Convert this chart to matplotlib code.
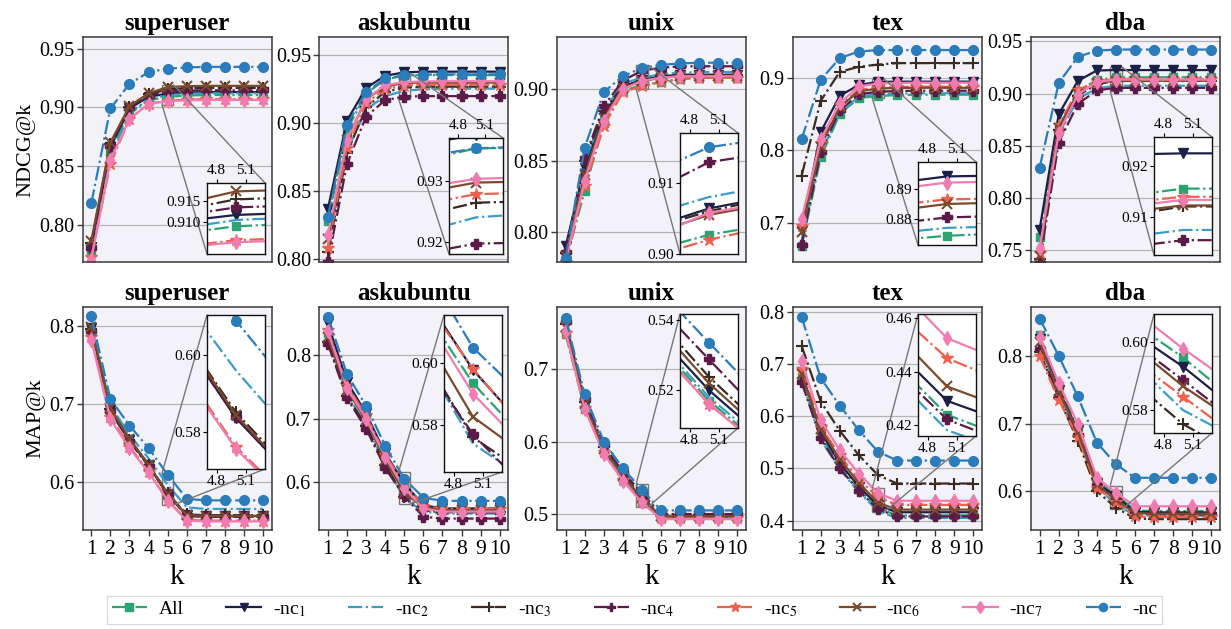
import matplotlib
matplotlib.use("Agg")
import matplotlib.pyplot as plt
from mpl_toolkits.axes_grid1.inset_locator import mark_inset

plt.rcParams['font.family'] = ['Liberation Serif', 'DejaVu Serif']
plt.rcParams['mathtext.fontset'] = 'stix'

# ---------------------------------------------------------------- data
k = [1, 2, 3, 4, 5, 6, 7, 8, 9, 10]
datasets = ['superuser', 'askubuntu', 'unix', 'tex', 'dba']
variants = ['All', '-nc$_1$', '-nc$_2$', '-nc$_3$', '-nc$_4$',
            '-nc$_5$', '-nc$_6$', '-nc$_7$', '-nc']

# NDCG@k, rows follow `variants`
ndcg_superuser = [
    [0.776, 0.862, 0.896, 0.906, 0.9090, 0.9100, 0.9105, 0.9105, 0.9105, 0.9105],
    [0.778, 0.866, 0.899, 0.909, 0.9117, 0.9125, 0.9130, 0.9130, 0.9130, 0.9130],
    [0.774, 0.858, 0.894, 0.907, 0.9105, 0.9115, 0.9120, 0.9120, 0.9120, 0.9120],
    [0.784, 0.869, 0.900, 0.911, 0.9154, 0.9162, 0.9165, 0.9165, 0.9165, 0.9165],
    [0.780, 0.867, 0.899, 0.910, 0.9135, 0.9142, 0.9145, 0.9145, 0.9145, 0.9145],
    [0.772, 0.852, 0.890, 0.903, 0.9057, 0.9065, 0.9070, 0.9070, 0.9070, 0.9070],
    [0.786, 0.870, 0.901, 0.912, 0.9173, 0.9180, 0.9183, 0.9183, 0.9183, 0.9183],
    [0.770, 0.855, 0.890, 0.903, 0.9052, 0.9060, 0.9063, 0.9063, 0.9063, 0.9063],
    [0.818, 0.899, 0.920, 0.930, 0.9330, 0.9340, 0.9345, 0.9345, 0.9345, 0.9345],
]
ndcg_askubuntu = [
    [0.828, 0.895, 0.922, 0.932, 0.9353, 0.9355, 0.9355, 0.9355, 0.9355, 0.9355],
    [0.837, 0.902, 0.926, 0.935, 0.9375, 0.9380, 0.9380, 0.9380, 0.9380, 0.9380],
    [0.812, 0.880, 0.910, 0.920, 0.9240, 0.9250, 0.9255, 0.9255, 0.9255, 0.9255],
    [0.805, 0.878, 0.912, 0.923, 0.9264, 0.9268, 0.9270, 0.9270, 0.9270, 0.9270],
    [0.798, 0.870, 0.905, 0.917, 0.9197, 0.9200, 0.9200, 0.9200, 0.9200, 0.9200],
    [0.808, 0.882, 0.915, 0.925, 0.9278, 0.9282, 0.9285, 0.9285, 0.9285, 0.9285],
    [0.815, 0.888, 0.918, 0.927, 0.9297, 0.9300, 0.9300, 0.9300, 0.9300, 0.9300],
    [0.818, 0.888, 0.918, 0.928, 0.9303, 0.9308, 0.9310, 0.9310, 0.9310, 0.9310],
    [0.831, 0.899, 0.923, 0.933, 0.9353, 0.9358, 0.9360, 0.9360, 0.9360, 0.9360],
]
ndcg_unix = [
    [0.779, 0.829, 0.876, 0.899, 0.9027, 0.9050, 0.9070, 0.9080, 0.9080, 0.9080],
    [0.790, 0.845, 0.882, 0.902, 0.9064, 0.9090, 0.9100, 0.9100, 0.9100, 0.9100],
    [0.782, 0.848, 0.885, 0.904, 0.9080, 0.9105, 0.9115, 0.9120, 0.9120, 0.9120],
    [0.785, 0.850, 0.885, 0.902, 0.9060, 0.9090, 0.9100, 0.9100, 0.9100, 0.9100],
    [0.786, 0.852, 0.888, 0.906, 0.9129, 0.9150, 0.9160, 0.9160, 0.9160, 0.9160],
    [0.779, 0.832, 0.874, 0.898, 0.9020, 0.9050, 0.9070, 0.9080, 0.9080, 0.9080],
    [0.783, 0.840, 0.880, 0.901, 0.9055, 0.9080, 0.9090, 0.9090, 0.9090, 0.9090],
    [0.780, 0.836, 0.878, 0.900, 0.9058, 0.9080, 0.9090, 0.9090, 0.9090, 0.9090],
    [0.782, 0.859, 0.898, 0.909, 0.9150, 0.9170, 0.9180, 0.9185, 0.9185, 0.9185],
]
ndcg_tex = [
    [0.668, 0.790, 0.850, 0.872, 0.8746, 0.8760, 0.8765, 0.8765, 0.8765, 0.8765],
    [0.690, 0.825, 0.875, 0.890, 0.8940, 0.8945, 0.8945, 0.8945, 0.8945, 0.8945],
    [0.675, 0.795, 0.852, 0.874, 0.8772, 0.8780, 0.8785, 0.8785, 0.8785, 0.8785],
    [0.765, 0.868, 0.908, 0.915, 0.9180, 0.9200, 0.9200, 0.9200, 0.9200, 0.9200],
    [0.670, 0.798, 0.855, 0.877, 0.8806, 0.8815, 0.8820, 0.8820, 0.8820, 0.8820],
    [0.695, 0.810, 0.862, 0.883, 0.8865, 0.8870, 0.8875, 0.8875, 0.8875, 0.8875],
    [0.688, 0.805, 0.860, 0.881, 0.8850, 0.8858, 0.8860, 0.8860, 0.8860, 0.8860],
    [0.705, 0.815, 0.865, 0.888, 0.8920, 0.8925, 0.8930, 0.8930, 0.8930, 0.8930],
    [0.815, 0.897, 0.927, 0.936, 0.9380, 0.9380, 0.9380, 0.9380, 0.9380, 0.9380],
]
ndcg_dba = [
    [0.763, 0.868, 0.902, 0.913, 0.9155, 0.9155, 0.9155, 0.9155, 0.9155, 0.9155],
    [0.770, 0.880, 0.912, 0.922, 0.9224, 0.9224, 0.9224, 0.9224, 0.9224, 0.9224],
    [0.745, 0.860, 0.895, 0.905, 0.9074, 0.9074, 0.9074, 0.9074, 0.9074, 0.9074],
    [0.742, 0.865, 0.898, 0.909, 0.9120, 0.9120, 0.9120, 0.9120, 0.9120, 0.9120],
    [0.738, 0.853, 0.890, 0.903, 0.9054, 0.9054, 0.9054, 0.9054, 0.9054, 0.9054],
    [0.748, 0.870, 0.903, 0.912, 0.9139, 0.9139, 0.9139, 0.9139, 0.9139, 0.9139],
    [0.745, 0.867, 0.900, 0.910, 0.9122, 0.9122, 0.9122, 0.9122, 0.9122, 0.9122],
    [0.752, 0.862, 0.899, 0.911, 0.9133, 0.9133, 0.9133, 0.9133, 0.9133, 0.9133],
    [0.829, 0.910, 0.935, 0.941, 0.9420, 0.9420, 0.9420, 0.9420, 0.9420, 0.9420],
]

# MAP@k, rows follow `variants`
map_superuser = [
    [0.795, 0.690, 0.652, 0.620, 0.5840, 0.556, 0.555, 0.555, 0.555, 0.555],
    [0.797, 0.692, 0.654, 0.621, 0.5835, 0.557, 0.556, 0.556, 0.556, 0.556],
    [0.800, 0.698, 0.660, 0.630, 0.5960, 0.567, 0.565, 0.565, 0.565, 0.565],
    [0.796, 0.693, 0.654, 0.622, 0.5850, 0.558, 0.557, 0.557, 0.557, 0.557],
    [0.793, 0.690, 0.652, 0.620, 0.5838, 0.556, 0.555, 0.555, 0.555, 0.555],
    [0.785, 0.683, 0.645, 0.613, 0.5760, 0.551, 0.550, 0.550, 0.550, 0.550],
    [0.798, 0.694, 0.655, 0.622, 0.5843, 0.557, 0.556, 0.556, 0.556, 0.556],
    [0.782, 0.680, 0.643, 0.612, 0.5755, 0.550, 0.549, 0.549, 0.549, 0.549],
    [0.812, 0.706, 0.672, 0.643, 0.6090, 0.578, 0.576, 0.576, 0.576, 0.576],
]
map_askubuntu = [
    [0.835, 0.750, 0.702, 0.640, 0.5934, 0.560, 0.556, 0.556, 0.556, 0.556],
    [0.850, 0.758, 0.708, 0.645, 0.5977, 0.563, 0.558, 0.558, 0.558, 0.558],
    [0.825, 0.738, 0.690, 0.628, 0.5740, 0.553, 0.550, 0.550, 0.550, 0.550],
    [0.820, 0.735, 0.688, 0.627, 0.5760, 0.555, 0.552, 0.552, 0.552, 0.552],
    [0.818, 0.732, 0.684, 0.622, 0.5770, 0.545, 0.542, 0.542, 0.542, 0.542],
    [0.840, 0.752, 0.705, 0.642, 0.5980, 0.562, 0.557, 0.557, 0.557, 0.557],
    [0.828, 0.745, 0.697, 0.635, 0.5826, 0.560, 0.555, 0.555, 0.555, 0.555],
    [0.838, 0.748, 0.700, 0.640, 0.5900, 0.558, 0.553, 0.553, 0.553, 0.553],
    [0.861, 0.770, 0.720, 0.657, 0.6048, 0.575, 0.570, 0.570, 0.570, 0.570],
]
map_unix = [
    [0.748, 0.645, 0.585, 0.548, 0.5170, 0.494, 0.494, 0.494, 0.494, 0.494],
    [0.760, 0.650, 0.588, 0.550, 0.5200, 0.496, 0.496, 0.496, 0.496, 0.496],
    [0.755, 0.648, 0.587, 0.549, 0.5180, 0.495, 0.495, 0.495, 0.495, 0.495],
    [0.762, 0.655, 0.592, 0.555, 0.5238, 0.498, 0.498, 0.498, 0.498, 0.498],
    [0.765, 0.658, 0.595, 0.558, 0.5288, 0.500, 0.500, 0.500, 0.500, 0.500],
    [0.750, 0.646, 0.585, 0.547, 0.5160, 0.494, 0.494, 0.494, 0.494, 0.494],
    [0.758, 0.652, 0.590, 0.553, 0.5220, 0.497, 0.497, 0.497, 0.497, 0.497],
    [0.752, 0.645, 0.583, 0.546, 0.5161, 0.493, 0.493, 0.493, 0.493, 0.493],
    [0.770, 0.665, 0.600, 0.563, 0.5336, 0.505, 0.505, 0.505, 0.505, 0.505],
]
map_tex = [
    [0.675, 0.562, 0.505, 0.460, 0.4238, 0.410, 0.410, 0.410, 0.410, 0.410],
    [0.685, 0.570, 0.510, 0.465, 0.4290, 0.416, 0.416, 0.416, 0.416, 0.416],
    [0.670, 0.555, 0.498, 0.455, 0.4180, 0.405, 0.405, 0.405, 0.405, 0.405],
    [0.735, 0.628, 0.572, 0.525, 0.4870, 0.471, 0.471, 0.471, 0.471, 0.471],
    [0.665, 0.558, 0.500, 0.457, 0.4220, 0.408, 0.408, 0.408, 0.408, 0.408],
    [0.690, 0.580, 0.525, 0.478, 0.4450, 0.430, 0.430, 0.430, 0.430, 0.430],
    [0.680, 0.575, 0.518, 0.472, 0.4344, 0.421, 0.421, 0.421, 0.421, 0.421],
    [0.705, 0.592, 0.535, 0.490, 0.4525, 0.438, 0.438, 0.438, 0.438, 0.438],
    [0.790, 0.673, 0.620, 0.573, 0.5320, 0.515, 0.515, 0.515, 0.515, 0.515],
]
map_dba = [
    [0.830, 0.755, 0.695, 0.615, 0.5954, 0.572, 0.571, 0.571, 0.571, 0.571],
    [0.825, 0.750, 0.690, 0.612, 0.5927, 0.570, 0.569, 0.569, 0.569, 0.569],
    [0.815, 0.745, 0.685, 0.607, 0.5800, 0.565, 0.564, 0.564, 0.564, 0.564],
    [0.805, 0.738, 0.675, 0.600, 0.5759, 0.560, 0.559, 0.559, 0.559, 0.559],
    [0.810, 0.740, 0.683, 0.610, 0.5888, 0.567, 0.566, 0.566, 0.566, 0.566],
    [0.800, 0.735, 0.680, 0.605, 0.5839, 0.563, 0.562, 0.562, 0.562, 0.562],
    [0.820, 0.748, 0.688, 0.610, 0.5870, 0.568, 0.567, 0.567, 0.567, 0.567],
    [0.828, 0.760, 0.700, 0.620, 0.5980, 0.578, 0.578, 0.578, 0.578, 0.578],
    [0.855, 0.800, 0.740, 0.672, 0.6400, 0.620, 0.620, 0.620, 0.620, 0.620],
]

ndcg_rows = [ndcg_superuser, ndcg_askubuntu, ndcg_unix, ndcg_tex, ndcg_dba]
map_rows = [map_superuser, map_askubuntu, map_unix, map_tex, map_dba]

# ---------------------------------------------------------------- styles
colors = ['#2ba373', '#1c1f48', '#3a9dc8', '#3b2b22', '#5b1a48',
          '#f0604e', '#7a4a2c', '#f27cb2', '#2a7cba']
markers = ['s', 'v', '', '+', 'P', '*', 'x', 'd', 'o']
msizes = [6, 7, 0, 9, 7, 9, 7, 7, 7]
lstyles = ['-.', '-', '-.', '-.', '-.', '-.', '-', '-', '-.']

BG = '#f2f2f8'
W, H = 1231, 629


def px_rect(x0, y0, x1, y1):
    return [x0 / W, 1 - y1 / H, (x1 - x0) / W, (y1 - y0) / H]


col_left = [82.7, 319.3, 557, 793, 1031]
col_w = 189
row_top = [37, 307]
row_h = [225, 223]

ylims_top = [(0.768, 0.960), (0.798, 0.9635), (0.779, 0.9365), (0.646, 0.956), (0.739, 0.954)]
yticks_top = [[0.80, 0.85, 0.90, 0.95], [0.80, 0.85, 0.90, 0.95], [0.80, 0.85, 0.90],
              [0.7, 0.8, 0.9], [0.75, 0.80, 0.85, 0.90, 0.95]]
yfmt_top = ['%.2f', '%.2f', '%.2f', '%.1f', '%.2f']
ylims_bot = [(0.538, 0.824), (0.524, 0.876), (0.478, 0.7855), (0.382, 0.809), (0.543, 0.872)]
yticks_bot = [[0.6, 0.7, 0.8], [0.6, 0.7, 0.8], [0.5, 0.6, 0.7], [0.4, 0.5, 0.6, 0.7, 0.8],
              [0.6, 0.7, 0.8]]

ins_top = [(207, 183, 265, 254), (449, 138, 503, 254), (680, 133, 738, 254),
           (918, 162, 976, 245), (1154, 137, 1212, 255)]
ins_top_ylim = [(0.9024, 0.9193), (0.918, 0.937), (0.900, 0.917), (0.8716, 0.8987),
                (0.9025, 0.9256)]
ins_top_ticks = [[0.910, 0.915], [0.92, 0.93], [0.90, 0.91], [0.88, 0.89], [0.91, 0.92]]
ins_top_fmt = ['%.3f', '%.2f', '%.2f', '%.2f', '%.2f']
ins_bot = [(207, 315, 265, 469), (444, 315, 502, 472), (680, 314, 738, 428),
           (918, 314, 976, 436), (1154, 314, 1212, 433)]
ins_bot_ylim = [(0.5702, 0.6105), (0.5649, 0.6153), (0.5092, 0.5418), (0.4158, 0.4616),
                (0.5733, 0.6081)]
ins_bot_ticks = [[0.58, 0.60], [0.58, 0.60], [0.52, 0.54], [0.42, 0.44, 0.46], [0.58, 0.60]]

fig = plt.figure(figsize=(W / 100, H / 100), dpi=100)


def draw_lines(ax, rows):
    handles = []
    for vals, lab, c, m, ms, ls in zip(rows, variants, colors, markers, msizes, lstyles):
        h, = ax.plot(k, vals, color=c, marker=m if m else None, markersize=ms,
                     linestyle=ls, linewidth=1.6, markeredgewidth=1.5 if m in '+x' else 1.0,
                     label=lab)
        handles.append(h)
    return handles


def style_main(ax):
    ax.set_facecolor(BG)
    ax.set_xlim(0.55, 10.45)
    ax.set_xticks(k)
    ax.grid(axis='y', color='#b4b4b4', linewidth=0.9)
    ax.set_axisbelow(True)
    for sp in ax.spines.values():
        sp.set_color('#3a3a3a')
        sp.set_linewidth(1.1)
    ax.tick_params(direction='out', length=4, width=1, labelsize=14.5, pad=2,
                   color='#3a3a3a')


def style_inset(axi, top):
    axi.set_facecolor('white')
    axi.set_xlim(4.7, 5.3)
    axi.set_xticks([4.8, 5.1])
    axi.set_xticklabels(['4.8', '5.1'])
    for sp in axi.spines.values():
        sp.set_color('#111111')
        sp.set_linewidth(1.0)
    axi.tick_params(direction='out', length=3, width=0.8, labelsize=11, pad=1.5)
    if top:
        axi.xaxis.tick_top()


handles = None
for c in range(5):
    # NDCG row
    ax = fig.add_axes(px_rect(col_left[c], row_top[0], col_left[c] + col_w,
                              row_top[0] + row_h[0]))
    style_main(ax)
    h = draw_lines(ax, ndcg_rows[c])
    if handles is None:
        handles = h
    ax.set_ylim(*ylims_top[c])
    ax.set_yticks(yticks_top[c])
    ax.set_yticklabels([yfmt_top[c] % v for v in yticks_top[c]])
    ax.tick_params(axis='x', bottom=False, labelbottom=False)
    ax.set_title(datasets[c], fontsize=18, fontweight='bold', pad=5)
    if c == 0:
        ax.set_ylabel('NDCG@k', fontsize=16, labelpad=3)

    axi = fig.add_axes(px_rect(*ins_top[c]))
    draw_lines(axi, ndcg_rows[c])
    style_inset(axi, True)
    axi.set_ylim(*ins_top_ylim[c])
    axi.set_yticks(ins_top_ticks[c])
    axi.set_yticklabels([ins_top_fmt[c] % v for v in ins_top_ticks[c]])
    mark_inset(ax, axi, loc1=1, loc2=3, fc='none', ec='#777777', lw=1.0)

    # MAP row
    ax = fig.add_axes(px_rect(col_left[c], row_top[1], col_left[c] + col_w,
                              row_top[1] + row_h[1]))
    style_main(ax)
    draw_lines(ax, map_rows[c])
    ax.set_ylim(*ylims_bot[c])
    ax.set_yticks(yticks_bot[c])
    ax.set_yticklabels(['%.1f' % v for v in yticks_bot[c]])
    ax.tick_params(axis='x', labelsize=15.5, pad=3)
    ax.set_title(datasets[c], fontsize=18, fontweight='bold', pad=5)
    ax.set_xlabel('k', fontsize=21, labelpad=4)
    if c == 0:
        ax.set_ylabel('MAP@k', fontsize=16, labelpad=3)

    axi = fig.add_axes(px_rect(*ins_bot[c]))
    draw_lines(axi, map_rows[c])
    style_inset(axi, False)
    axi.set_ylim(*ins_bot_ylim[c])
    axi.set_yticks(ins_bot_ticks[c])
    axi.set_yticklabels(['%.2f' % v for v in ins_bot_ticks[c]])
    mark_inset(ax, axi, loc1=2, loc2=4, fc='none', ec='#777777', lw=1.0)

leg = fig.legend(handles=handles, labels=variants, loc='lower center',
                 bbox_to_anchor=(0.5155, 0.004), ncol=9, fontsize=14,
                 frameon=True, fancybox=False, edgecolor='#cccccc',
                 handlelength=1.8, columnspacing=2.2, handletextpad=0.6,
                 borderpad=0.25, borderaxespad=0.15, markerscale=0.85)
leg.get_frame().set_linewidth(0.8)

fig.savefig('out.png', dpi=100)
